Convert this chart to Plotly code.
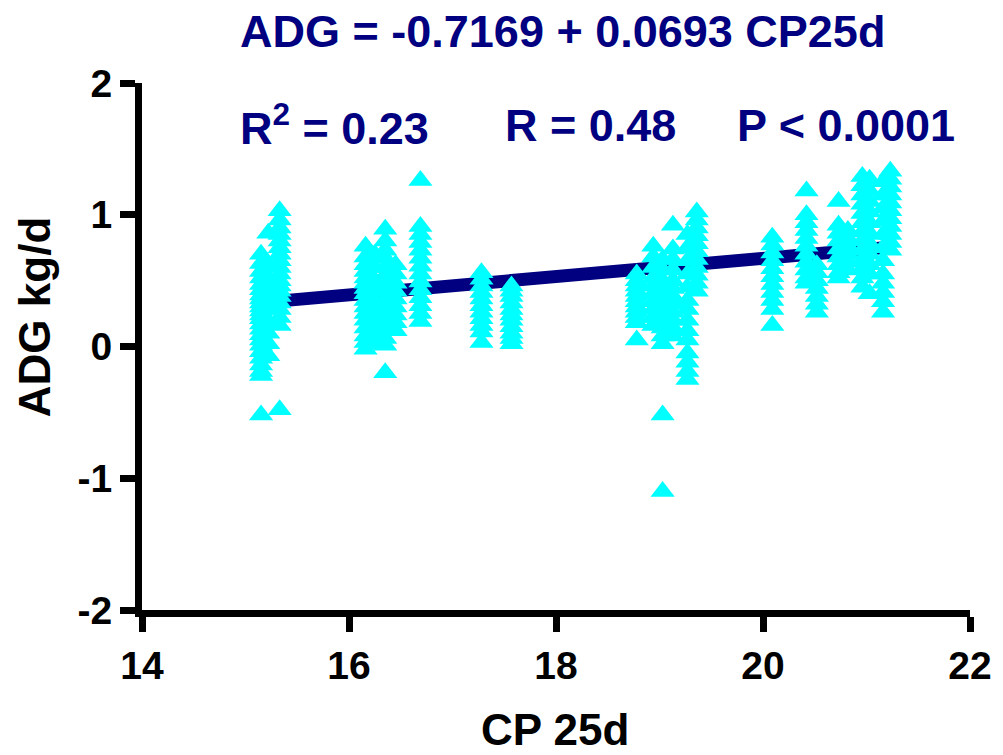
import plotly.graph_objects as go

# CP 25d column positions and ADG values (kg/d)
cp_cols = [15.15, 15.22, 15.33, 16.16, 16.25, 16.35, 16.45, 16.69, 17.28, 17.57,
           18.78, 18.94, 19.03, 19.13, 19.27, 19.36, 20.09, 20.42, 20.52, 20.73,
           20.82, 20.96, 21.03, 21.16, 21.23]

adg_cols = [
    [0.70, 0.63, 0.57, 0.52, 0.47, 0.43, 0.39, 0.36, 0.33, 0.30, 0.27, 0.24, 0.21, 0.17, 0.13, 0.09, 0.05, 0.01, -0.04, -0.09, -0.14, -0.19, -0.22, -0.52],
    [0.86, 0.62, 0.52, 0.44, 0.36, 0.28, 0.19, 0.10, 0.02, -0.07],
    [1.03, 0.96, 0.90, 0.85, 0.80, 0.75, 0.70, 0.65, 0.60, 0.55, 0.50, 0.46, 0.42, 0.38, 0.33, 0.28, 0.22, 0.16, -0.48],
    [0.76, 0.68, 0.62, 0.57, 0.52, 0.48, 0.44, 0.40, 0.35, 0.30, 0.25, 0.20, 0.14, 0.08, 0.03, -0.02],
    [0.70, 0.60, 0.50, 0.42, 0.34, 0.26, 0.18, 0.10, 0.02],
    [0.89, 0.80, 0.73, 0.67, 0.60, 0.54, 0.48, 0.42, 0.36, 0.30, 0.24, 0.18, 0.12, 0.06, 0.01, -0.20],
    [0.62, 0.55, 0.48, 0.42, 0.36, 0.30, 0.24, 0.18, 0.12],
    [1.26, 0.91, 0.85, 0.79, 0.73, 0.67, 0.61, 0.55, 0.49, 0.43, 0.37, 0.31, 0.25, 0.19],
    [0.56, 0.51, 0.46, 0.41, 0.36, 0.31, 0.26, 0.21, 0.16, 0.11, 0.03],
    [0.46, 0.42, 0.38, 0.33, 0.28, 0.24, 0.20, 0.15, 0.10, 0.06, 0.02],
    [0.55, 0.50, 0.46, 0.42, 0.38, 0.34, 0.30, 0.26, 0.22, 0.18, 0.05],
    [0.76, 0.68, 0.60, 0.52, 0.46, 0.40, 0.34, 0.28, 0.22, 0.16],
    [0.66, 0.58, 0.50, 0.44, 0.38, 0.32, 0.26, 0.20, 0.14, 0.08, 0.02, -0.52, -1.10],
    [0.92, 0.74, 0.66, 0.58, 0.50, 0.44, 0.38, 0.32, 0.26, 0.20, 0.14, 0.08],
    [0.85, 0.75, 0.65, 0.55, 0.45, 0.35, 0.28, 0.20, 0.12, 0.05, -0.05, -0.12, -0.19, -0.25],
    [1.02, 0.96, 0.90, 0.84, 0.78, 0.72, 0.66, 0.60, 0.54, 0.48, 0.42],
    [0.83, 0.77, 0.71, 0.65, 0.59, 0.53, 0.47, 0.41, 0.35, 0.28, 0.16],
    [1.18, 1.00, 0.94, 0.88, 0.82, 0.76, 0.70, 0.64, 0.58, 0.52, 0.48],
    [0.62, 0.56, 0.50, 0.44, 0.38, 0.32, 0.26],
    [1.10, 0.92, 0.86, 0.80, 0.74, 0.68, 0.62, 0.56, 0.52],
    [0.88, 0.82, 0.76, 0.70, 0.64, 0.58],
    [1.29, 1.22, 1.15, 1.08, 1.01, 0.94, 0.87, 0.80, 0.73, 0.66, 0.59, 0.52, 0.45],
    [1.27, 1.18, 1.10, 1.02, 0.94, 0.86, 0.78, 0.70, 0.62, 0.55, 0.40],
    [1.25, 1.15, 1.05, 0.95, 0.85, 0.75, 0.65, 0.55, 0.48, 0.41, 0.34, 0.26],
    [1.33, 1.27, 1.21, 1.15, 1.09, 1.03, 0.97, 0.91, 0.85, 0.79, 0.73],
]

# regression
intercept = -0.7169
slope = 0.0693

x_ticks = [14, 16, 18, 20, 22]
y_ticks = [-2, -1, 0, 1, 2]

cp = []
adg = []
for xc, ys in zip(cp_cols, adg_cols):
    for y in ys:
        cp.append(xc)
        adg.append(y)

x_line = [min(cp), max(cp)]
y_line = [intercept + slope * v for v in x_line]

FONT = "Liberation Sans, Arial, sans-serif"
NAVY = "#000080"

fig = go.Figure()
fig.add_trace(go.Scatter(x=x_line, y=y_line, mode="lines",
                         line=dict(color=NAVY, width=13), showlegend=False,
                         hoverinfo="skip"))
fig.add_trace(go.Scatter(x=cp, y=adg, mode="markers",
                         marker=dict(symbol="triangle-up", size=21, color="#00FFFF",
                                     line=dict(width=0)),
                         showlegend=False))

axis_common = dict(showline=True, linewidth=7, linecolor="black", ticks="outside",
                   ticklen=15, tickwidth=7, tickcolor="black", showgrid=False,
                   zeroline=False, automargin=False,
                   tickfont=dict(family=FONT, size=39, color="black", weight="bold"))

fig.update_xaxes(range=[14, 22], tickvals=x_ticks, ticktext=[str(v) for v in x_ticks],
                 **axis_common)
fig.update_yaxes(range=[-2, 2], tickvals=y_ticks, ticktext=[str(v) for v in y_ticks],
                 **axis_common)

title_font = dict(family=FONT, size=44, color="black", weight="bold")
# axis titles
fig.add_annotation(text="ADG kg/d", xref="paper", yref="paper",
                   x=-0.129, y=0.556, xanchor="center", yanchor="middle",
                   textangle=-90, showarrow=False, font=title_font)
fig.add_annotation(text="CP 25d", xref="paper", yref="paper",
                   x=0.499, y=-0.226, xanchor="center", yanchor="middle",
                   showarrow=False, font=title_font)

ann_font = dict(family=FONT, size=45, color=NAVY, weight="bold")
fig.add_annotation(text="ADG = -0.7169 + 0.0693 CP25d", xref="paper", yref="paper",
                   x=0.508, y=1.097, xanchor="center", yanchor="middle",
                   showarrow=False, font=ann_font)
fig.add_annotation(text="R<sup>2</sup> = 0.23", xref="paper", yref="paper",
                   x=0.116, y=0.92, xanchor="left", yanchor="middle",
                   showarrow=False, font=ann_font)
fig.add_annotation(text="R = 0.48", xref="paper", yref="paper",
                   x=0.436, y=0.92, xanchor="left", yanchor="middle",
                   showarrow=False, font=ann_font)
fig.add_annotation(text="P < 0.0001", xref="paper", yref="paper",
                   x=0.716, y=0.92, xanchor="left", yanchor="middle",
                   showarrow=False, font=ann_font)

fig.update_layout(width=1003, height=755, plot_bgcolor="white", paper_bgcolor="white",
                  margin=dict(l=142, r=33, t=83, b=145))

fig.write_html("out.html")
